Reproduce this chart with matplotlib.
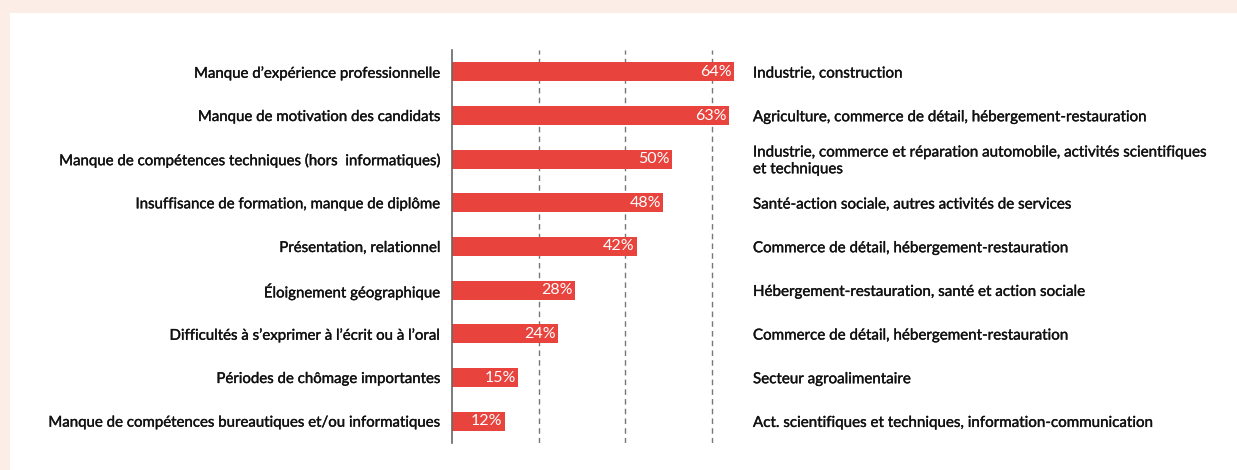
import matplotlib.pyplot as plt
import matplotlib.patheffects as pe

# data
reasons = [
    "Manque d\u2019exp\u00e9rience professionnelle",
    "Manque de motivation des candidats",
    "Manque de comp\u00e9tences techniques (hors  informatiques)",
    "Insuffisance de formation, manque de dipl\u00f4me",
    "Pr\u00e9sentation, relationnel",
    "\u00c9loignement g\u00e9ographique",
    "Difficult\u00e9s \u00e0 s\u2019exprimer \u00e0 l\u2019\u00e9crit ou \u00e0 l\u2019oral",
    "P\u00e9riodes de ch\u00f4mage importantes",
    "Manque de comp\u00e9tences bureautiques et/ou informatiques",
]
shares = [64, 63, 50, 48, 42, 28, 24, 15, 12]
sectors = [
    "Industrie, construction",
    "Agriculture, commerce de d\u00e9tail, h\u00e9bergement-restauration",
    "Industrie, commerce et r\u00e9paration automobile, activit\u00e9s scientifiques\net techniques",
    "Sant\u00e9-action sociale, autres activit\u00e9s de services",
    "Commerce de d\u00e9tail, h\u00e9bergement-restauration",
    "H\u00e9bergement-restauration, sant\u00e9 et action sociale",
    "Commerce de d\u00e9tail, h\u00e9bergement-restauration",
    "Secteur agroalimentaire",
    "Act. scientifiques et techniques, information-communication",
]

plt.rcParams['font.family'] = ['Lato', 'DejaVu Sans']
TXT = '#111111'
bold_dark = [pe.withStroke(linewidth=0.25, foreground=TXT)]

W, H = 1237, 470
fig = plt.figure(figsize=(W / 100, H / 100), dpi=100)
fig.patch.set_facecolor('#fdede7')
# white panel
fig.add_artist(plt.Rectangle((10 / W, 0), 1 - 10 / W, 1 - 13 / H,
                             transform=fig.transFigure, facecolor='white',
                             edgecolor='none', zorder=0))

x0, y_top, y_bot = 452, 50, 443
px_per_pct = 4.4
xmax = 100
ax = fig.add_axes([x0 / W, 1 - y_bot / H, xmax * px_per_pct / W, (y_bot - y_top) / H])
ax.set_facecolor('none')

ypos = list(range(len(shares)))
ax.barh(ypos, shares, height=0.44, color='#e8433d', zorder=2)
for y, v in zip(ypos, shares):
    ax.text(v - 0.5, y, f"{v}%", ha='right', va='center', color='white',
            fontsize=11.5, zorder=3)
for y, s in zip(ypos, sectors):
    ax.text(68.4, y + 0.04, s, ha='left', va='center', color=TXT,
            fontsize=10.9, linespacing=1.25, path_effects=bold_dark)

# dashed guides, evenly spaced about 86.7 px apart
for g in (19.7, 39.4, 59.1):
    ax.axvline(g, color='#777777', lw=1, ls=(0, (4, 3)), zorder=1)

ax.set_xlim(0, xmax)
ax.set_ylim(len(shares) - 0.5, -0.5)
ax.set_yticks(ypos)
ax.set_yticklabels(reasons, fontsize=10.8, color=TXT)
for lab in ax.get_yticklabels():
    lab.set_path_effects(bold_dark)
ax.tick_params(axis='y', length=0, pad=8)
ax.set_xticks([])
for side in ('top', 'right', 'bottom'):
    ax.spines[side].set_visible(False)
ax.spines['left'].set_color('#666666')
ax.spines['left'].set_linewidth(1.2)

fig.savefig('out.png', dpi=100)
